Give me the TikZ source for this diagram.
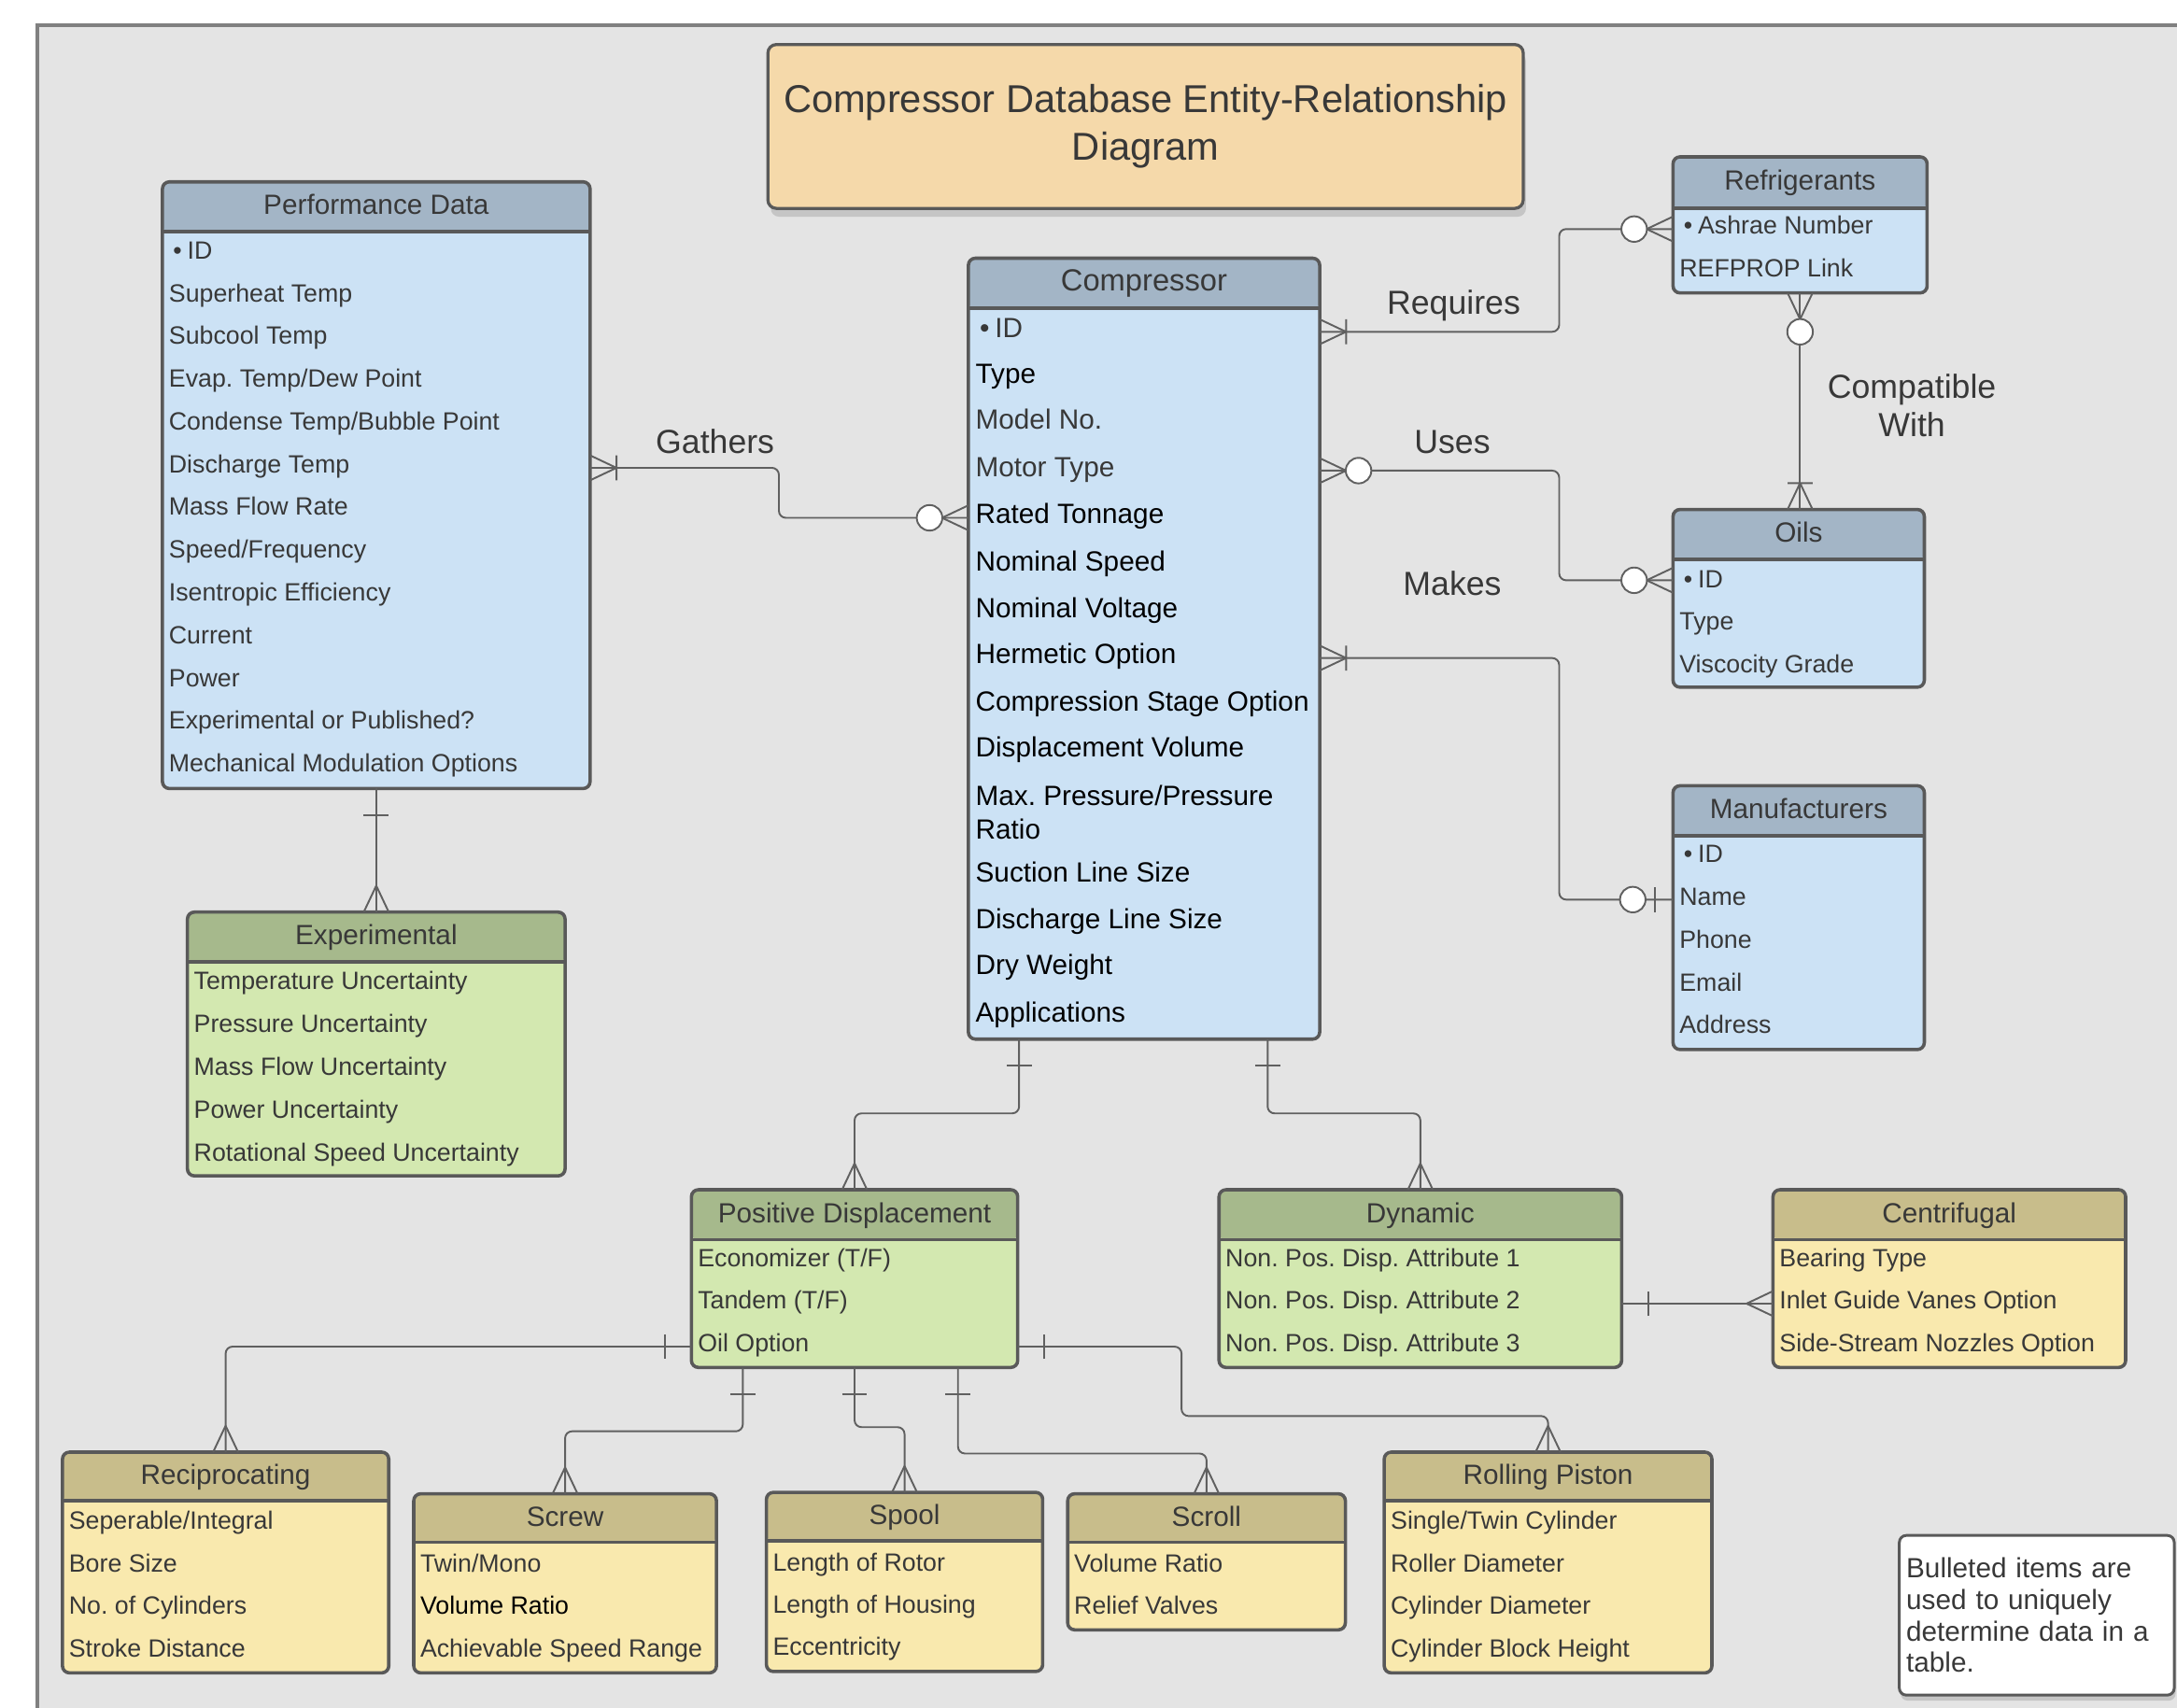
\documentclass[tikz,border=0pt]{standalone}
\usepackage{fontspec}
\setmainfont{Liberation Sans}
\usetikzlibrary{shadows,calc}
\definecolor{bgc}{HTML}{E4E4E4}
\definecolor{framec}{HTML}{808080}
\definecolor{titlec}{HTML}{F5D9AA}
\definecolor{bluehead}{HTML}{A3B5C6}
\definecolor{bluebody}{HTML}{CCE2F5}
\definecolor{greenhead}{HTML}{A6B98C}
\definecolor{greenbody}{HTML}{D3E8B0}
\definecolor{yellowhead}{HTML}{C8BD8B}
\definecolor{yellowbody}{HTML}{F9E9AE}
\definecolor{edgec}{HTML}{595959}
\definecolor{txt}{HTML}{383838}
\definecolor{linec}{HTML}{606060}
\newcommand{\fsz}[2]{\fontsize{#1pt}{#2pt}\selectfont}
\newcommand{\bul}{\hspace{3pt}\textbullet\hspace{4pt}}
\tikzset{
  entframe/.style={draw=edgec, line width=2.4pt, rounded corners=5pt, inner sep=0pt, outer sep=0pt},
  sepline/.style={draw=edgec, line width=2.4pt},
  headtext/.style={inner sep=0pt, text=txt, font=\fsz{20}{24}, text height=14.4pt, text depth=0pt},
  rowtext/.style={inner sep=0pt, anchor=west, text=txt, font=\fsz{18}{21.6}, text height=13pt, text depth=0pt},
  comprow/.style={rowtext, font=\fsz{20}{24}, text height=14.4pt, text=black},
  conn/.style={draw=linec, line width=1.3pt, rounded corners=5pt},
  tipline/.style={draw=linec, line width=1.3pt},
  relabel/.style={inner sep=0pt, text=txt, font=\fsz{24}{28}, text height=17.3pt, text depth=0pt},
  relabeltwo/.style={inner sep=0pt, text=txt, font=\fsz{24}{28}, align=center},
  titlebox/.style={draw=edgec, line width=2.2pt, fill=titlec, rounded corners=6pt, inner sep=0pt,
    drop shadow={shadow xshift=2pt, shadow yshift=-6pt, opacity=0.3}, text=txt, font=\fsz{28}{34}, align=center},
  notebox/.style={draw=edgec, line width=2pt, fill=white, rounded corners=5pt, inner xsep=5pt,
    drop shadow={shadow xshift=1pt, shadow yshift=-4pt, opacity=0.3}, text=txt, font=\fsz{20}{22.6}, align=left},
  crowone/.pic={\draw[tipline] (19,0) -- (0,9) (19,0) -- (0,-9) (19,-9) -- (19,9);},
  crowzero/.pic={\draw[tipline] (19,0) -- (0,9) (19,0) -- (0,-9); \draw[tipline, fill=white] (28,0) circle (9.2pt);},
  crowonly/.pic={\draw[tipline] (19,0) -- (0,9) (19,0) -- (0,-9);},
  barone/.pic={\draw[tipline] (19,-9) -- (19,9);},
  zeroone/.pic={\draw[tipline] (13,-9) -- (13,9); \draw[tipline, fill=white] (29,0) circle (9.2pt);},
}
% name, left, top, right, header bottom, bottom, scheme, title
\newcommand{\erentity}[8]{%
  \pgfmathsetmacro{\erw}{#4-#2}%
  \pgfmathsetmacro{\erh}{#6-#3}%
  \pgfmathsetmacro{\erhh}{#5-#3}%
  \pgfmathsetmacro{\erty}{#5/2-#3/2-1.5}%
  \node[entframe, fill=#7body, minimum width=\erw pt, minimum height=\erh pt, anchor=north west,
        path picture={\fill[#7head] (path picture bounding box.north west) rectangle ([yshift=-\erhh pt]path picture bounding box.north east);}]
        (#1) at (#2,-#3) {};
  \draw[sepline] ([yshift=-\erhh pt]#1.north west) -- ([yshift=-\erhh pt]#1.north east);
  \node[headtext] (#1-title) at ([yshift=-\erty pt]#1.north) {#8};
}
% name, left, first y, spacing, list
\newcommand{\errows}[5]{%
  \foreach \t [count=\i] in {#5} {
    \node[rowtext] (#1-r\i) at ({#2+4.5},{-(#3+(\i-1)*#4)}) {\t};
  }
}
\begin{document}
\frenchspacing
\begin{tikzpicture}[x=1pt, y=1pt]
\useasboundingbox (0,0) rectangle (1568,-1230);
\fill[white] (0,0) rectangle (1568,-1230);
\clip (0,0) rectangle (1568,-1230);
\draw[line width=3pt, draw=framec, fill=bgc] (27,-18) rectangle (1620,-1280);

% title
\node[titlebox, anchor=north west, minimum width=544pt, minimum height=118pt] (title) at (552,-31)
  {Compressor Database Entity-Relationship\\Diagram};

% entities
\erentity{pd}{117}{131}{425}{167}{568}{blue}{Performance Data}
\errows{pd}{117}{180}{30.8}{{\bul ID},Superheat Temp,Subcool Temp,Evap. Temp/Dew Point,Condense Temp/Bubble Point,Discharge Temp,Mass Flow Rate,Speed/Frequency,Isentropic Efficiency,Current,Power,Experimental or Published?,Mechanical Modulation Options}

\erentity{comp}{697.5}{186}{950.5}{222}{748.5}{blue}{\fsz{22}{26}Compressor}
\foreach \yy/\t [count=\i] in {236/{\color{txt}\bul ID}, 269/Type, 302/{\color{txt}Model No.}, 336/{\color{txt}Motor Type}, 370/Rated Tonnage, 404/Nominal Speed, 438/Nominal Voltage, 471/Hermetic Option, 505/Compression Stage Option, 538/Displacement Volume} {
  \node[comprow] (comp-r\i) at (702.5,-\yy) {\t};
}
\node[inner sep=0pt, anchor=west, text=black, font=\fsz{20}{24}, align=left] (comp-r11) at (702.5,-585) {Max. Pressure/Pressure\\Ratio};
\foreach \yy/\t [count=\i from 12] in {628/Suction Line Size, 662/Discharge Line Size, 695/Dry Weight, 729/Applications} {
  \node[comprow] (comp-r\i) at (702.5,-\yy) {\t};
}

\erentity{ref}{1205}{113}{1388}{150}{211}{blue}{Refrigerants}
\errows{ref}{1205}{162}{31}{{\bul Ashrae Number},REFPROP Link}
\erentity{oils}{1205}{367}{1386}{403}{495}{blue}{Oils}
\errows{oils}{1205}{417}{30.5}{{\bul ID},Type,Viscocity Grade}
\erentity{man}{1205}{566}{1386}{602}{756}{blue}{Manufacturers}
\errows{man}{1205}{615}{30.75}{{\bul ID},Name,Phone,Email,Address}
\erentity{exp}{135}{657}{407}{693}{847}{green}{Experimental}
\errows{exp}{135}{706}{31}{Temperature Uncertainty,Pressure Uncertainty,Mass Flow Uncertainty,Power Uncertainty,Rotational Speed Uncertainty}
\erentity{pdisp}{498}{857}{733}{893}{985}{green}{Positive Displacement}
\errows{pdisp}{498}{906}{30.5}{Economizer (T/F),Tandem (T/F),Oil Option}
\erentity{dyn}{878}{857}{1168}{893}{985}{green}{Dynamic}
\errows{dyn}{878}{906}{30.5}{Non. Pos. Disp. Attribute 1,Non. Pos. Disp. Attribute 2,Non. Pos. Disp. Attribute 3}
\erentity{cent}{1277}{857}{1531}{893}{985}{yellow}{Centrifugal}
\errows{cent}{1277}{906}{30.5}{Bearing Type,Inlet Guide Vanes Option,Side-Stream Nozzles Option}
\erentity{recip}{45}{1046}{280}{1081}{1205}{yellow}{Reciprocating}
\errows{recip}{45}{1095}{30.7}{Seperable/Integral,Bore Size,No. of Cylinders,Stroke Distance}
\erentity{screw}{298}{1076}{516}{1111}{1205}{yellow}{Screw}
\errows{screw}{298}{1126}{30.5}{Twin/Mono,{\color{black}Volume Ratio},Achievable Speed Range}
\erentity{spool}{552}{1075}{751}{1110}{1204}{yellow}{Spool}
\errows{spool}{552}{1125}{30.5}{Length of Rotor,Length of Housing,Eccentricity}
\erentity{scroll}{769}{1076}{969}{1111}{1174}{yellow}{Scroll}
\errows{scroll}{769}{1126}{30}{Volume Ratio,Relief Valves}
\erentity{rp}{997}{1046}{1233}{1081}{1205}{yellow}{Rolling Piston}
\errows{rp}{997}{1095}{30.7}{Single/Twin Cylinder,Roller Diameter,Cylinder Diameter,Cylinder Block Height}

% note
\node[notebox, anchor=north west, text width=188pt, minimum height=115pt] (note) at (1367,-1105)
  {Bulleted items are\\used to uniquely\\determine data in a\\table.};

% connectors
\draw[conn] (pd.east |- 0,-337) -- (561,-337) -- (561,-373) -- (comp.west |- 0,-373);
\pic at (pd.east |- 0,-337) {crowone};
\pic[rotate=180] at (comp.west |- 0,-373) {crowzero};

\draw[conn] (comp.east |- 0,-239) -- (1123,-239) -- (1123,-165) -- (ref.west |- 0,-165);
\pic at (comp.east |- 0,-239) {crowone};
\pic[rotate=180] at (ref.west |- 0,-165) {crowzero};

\draw[conn] (comp.east |- 0,-339) -- (1123,-339) -- (1123,-418) -- (oils.west |- 0,-418);
\pic at (comp.east |- 0,-339) {crowzero};
\pic[rotate=180] at (oils.west |- 0,-418) {crowzero};

\draw[conn] (comp.east |- 0,-474) -- (1123,-474) -- (1123,-648) -- (man.west |- 0,-648);
\pic at (comp.east |- 0,-474) {crowone};
\pic[rotate=180] at (man.west |- 0,-648) {zeroone};

\draw[conn] (ref.south -| 1296.5,0) -- (oils.north -| 1296.5,0);
\pic[rotate=-90] at (ref.south -| 1296.5,0) {crowzero};
\pic[rotate=90] at (oils.north -| 1296.5,0) {crowone};

\draw[conn] (pd.south) -- (exp.north);
\pic[rotate=-90] at (pd.south) {barone};
\pic[rotate=90] at (exp.north) {crowonly};

\draw[conn] (comp.south -| 734,0) -- (734,-802) -- (615.5,-802) -- (pdisp.north);
\pic[rotate=-90] at (comp.south -| 734,0) {barone};
\pic[rotate=90] at (pdisp.north) {crowonly};

\draw[conn] (comp.south -| 913,0) -- (913,-802) -- (1023,-802) -- (dyn.north);
\pic[rotate=-90] at (comp.south -| 913,0) {barone};
\pic[rotate=90] at (dyn.north) {crowonly};

\draw[conn] (dyn.east |- 0,-939) -- (cent.west |- 0,-939);
\pic at (dyn.east |- 0,-939) {barone};
\pic[rotate=180] at (cent.west |- 0,-939) {crowonly};

\draw[conn] (pdisp.west |- 0,-970) -- (162.5,-970) -- (recip.north);
\pic[rotate=180] at (pdisp.west |- 0,-970) {barone};
\pic[rotate=90] at (recip.north) {crowonly};

\draw[conn] (pdisp.east |- 0,-970) -- (851,-970) -- (851,-1020) -- (1115,-1020) -- (rp.north);
\pic at (pdisp.east |- 0,-970) {barone};
\pic[rotate=90] at (rp.north) {crowonly};

\draw[conn] (pdisp.south -| 535,0) -- (535,-1031) -- (407,-1031) -- (screw.north);
\pic[rotate=-90] at (pdisp.south -| 535,0) {barone};
\pic[rotate=90] at (screw.north) {crowonly};

\draw[conn] (pdisp.south -| 615.5,0) -- (615.5,-1028) -- (651.5,-1028) -- (spool.north);
\pic[rotate=-90] at (pdisp.south -| 615.5,0) {barone};
\pic[rotate=90] at (spool.north) {crowonly};

\draw[conn] (pdisp.south -| 690,0) -- (690,-1047) -- (869,-1047) -- (scroll.north);
\pic[rotate=-90] at (pdisp.south -| 690,0) {barone};
\pic[rotate=90] at (scroll.north) {crowonly};

% relationship labels
\node[relabel] (lgathers) at (515,-318) {Gathers};
\node[relabel] (lrequires) at (1047,-218) {Requires};
\node[relabel] (luses) at (1046,-318) {Uses};
\node[relabel] (lmakes) at (1046,-420) {Makes};
\node[relabeltwo] (lcompat) at (1377,-292) {Compatible\\With};
\end{tikzpicture}
\end{document}
